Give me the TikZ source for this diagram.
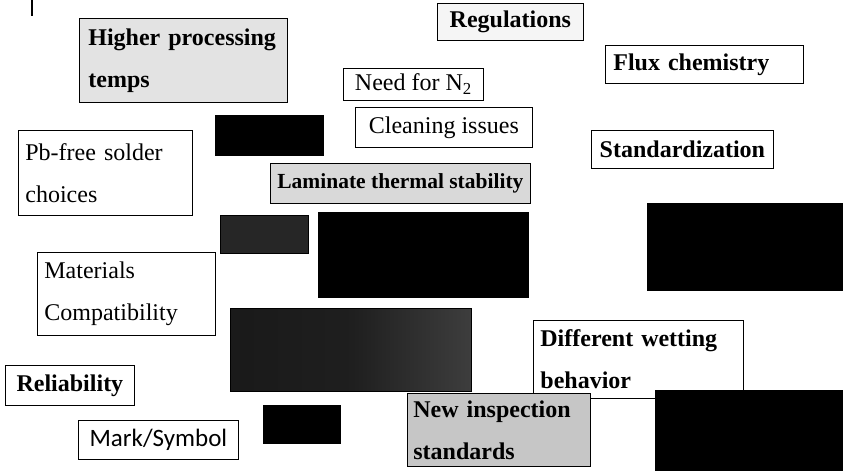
\documentclass[tikz,border=0pt]{standalone}
\usepackage{fontspec}
\setmainfont{Liberation Serif}
\newfontfamily\sansf{Carlito}
\tikzset{
  box/.style={draw, line width=0.8pt, anchor=north west, inner xsep=10pt, inner ysep=0pt,
    align=left, font=\fontsize{24}{42}\selectfont},
  bbox/.style={box, font=\fontsize{24}{42}\selectfont\bfseries},
  blk/.style={fill=black, draw=black, line width=0.6pt, anchor=north west, inner sep=0pt}
}
\begin{document}
\begin{tikzpicture}[x=1pt,y=-1pt]
\useasboundingbox (0,0) rectangle (843,474);
\draw[line width=2pt] (32,0) -- (32,16);
% labelled boxes
\node[bbox, fill=gray!22, minimum width=208, minimum height=84, text width=190pt, inner xsep=9pt] (hpt) at (79,18) {Higher processing\\temps};
\node[bbox, fill=gray!8, minimum width=146, minimum height=37, inner xsep=6pt] (reg) at (437,3) {Regulations};
\node[box, minimum width=140, minimum height=32, inner xsep=6pt] (n2) at (343,68) {Need for N\textsubscript{2}};
\node[bbox, minimum width=198, minimum height=38, text width=182pt, inner xsep=8pt] (flux) at (605,45) {Flux chemistry};
\node[box, minimum width=177, minimum height=40, inner xsep=6pt] (clean) at (355,107) {Cleaning issues};
\node[box, minimum width=174, minimum height=85, text width=160pt, inner xsep=7pt] (pb) at (18,130) {Pb-free solder\\choices};
\node[bbox, minimum width=182, minimum height=38, inner xsep=6pt] (std) at (591,130) {Standardization};
\node[bbox, fill=gray!30, minimum width=260, minimum height=40, inner xsep=6pt, font=\fontsize{21.5}{30}\selectfont\bfseries] (lam) at (270,163) {Laminate thermal stability};
\node[box, minimum width=178, minimum height=83, text width=164pt, inner xsep=7pt] (mat) at (37,252) {Materials\\Compatibility};
\node[bbox, minimum width=210, minimum height=78, text width=196pt, inner xsep=7pt] (diff) at (533,320) {Different wetting\\behavior};
\node[bbox, minimum width=129, minimum height=40, inner xsep=6pt] (rel) at (5,365) {Reliability};
\node[box, minimum width=160, minimum height=39, inner xsep=6pt, font=\fontsize{25}{30}\sansf] (mark) at (78,420) {Mark/Symbol};
\node[bbox, fill=gray!45, minimum width=183, minimum height=73, text width=171pt, inner xsep=6pt] (newi) at (407,393) {New inspection\\standards};
% redacted boxes
\node[blk, minimum width=108, minimum height=40] (k1) at (215,115) {};
\node[blk, fill=black!85, minimum width=88, minimum height=38] (k2) at (220,215) {};
\node[blk, minimum width=210, minimum height=85] (k3) at (318,212) {};
\node[blk, minimum width=196, minimum height=87] (k4) at (647,203) {};
\node[blk, left color=black!90, right color=black!76, middle color=black!88, minimum width=241, minimum height=83] (k5) at (230,308) {};
\node[blk, minimum width=77, minimum height=38] (k6) at (263,405) {};
\node[blk, minimum width=188, minimum height=80] (k7) at (655,390) {};
\end{tikzpicture}
\end{document}
